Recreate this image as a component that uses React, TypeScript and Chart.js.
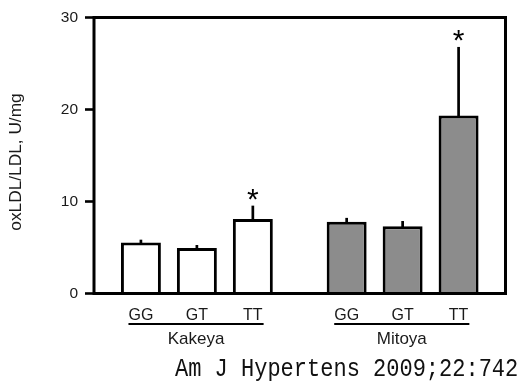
import React, { useEffect, useRef } from "react";
import { Chart, registerables } from "chart.js";

Chart.register(...registerables);

// ---- data ----
const groups = ["Kakeya", "Mitoya"];
const genotypes = ["GG", "GT", "TT"];
// mean oxLDL/LDL (U/mg) per genotype, indexed by group
const ggMeans = [5.55, 7.8];
const gtMeans = [4.95, 7.3];
const ttMeans = [8.1, 19.35];
// upper error (SE) per genotype, indexed by group
const ggErrors = [0.3, 0.42];
const gtErrors = [0.32, 0.58];
const ttErrors = [1.45, 7.45];
// significance marks per genotype, indexed by group
const ggSignificant = [false, false];
const gtSignificant = [false, false];
const ttSignificant = [true, true];
const yTicks = [0, 10, 20, 30];
const yTitle = "oxLDL/LDL, U/mg";
const footnote = "Am J Hypertens 2009;22:742";

const groupFills = ["#ffffff", "#8c8c8c"];
const SANS = "'Liberation Sans', Arial, Helvetica, sans-serif";
const INK = "#1a1a1a";

export default function App() {
  const ref = useRef<HTMLCanvasElement | null>(null);

  useEffect(() => {
    const canvas = ref.current;
    if (!canvas) return;
    const meansList = [ggMeans, gtMeans, ttMeans];
    const errList = [ggErrors, gtErrors, ttErrors];
    const sigList = [ggSignificant, gtSignificant, ttSignificant];

    const decor = {
      id: "decor",
      afterDatasetsDraw(chart: any) {
        const ctx = chart.ctx;
        const y = chart.scales.y;
        ctx.save();
        // error bars
        meansList.forEach((means, di) => {
          const meta = chart.getDatasetMeta(di);
          meta.data.forEach((bar: any, gi: number) => {
            const top = y.getPixelForValue(means[gi]);
            const errTop = y.getPixelForValue(means[gi] + errList[di][gi]);
            ctx.strokeStyle = "#000";
            ctx.lineWidth = 2.7;
            ctx.beginPath();
            ctx.moveTo(bar.x, top + 1);
            ctx.lineTo(bar.x, errTop);
            ctx.stroke();
            if (sigList[di][gi]) {
              ctx.fillStyle = "#000";
              ctx.font = `30px ${SANS}`;
              ctx.textAlign = "center";
              ctx.textBaseline = "alphabetic";
              const m = ctx.measureText("*");
              const asc = m.actualBoundingBoxAscent;
              const desc = m.actualBoundingBoxDescent;
              const center = errTop - 11;
              const baseline = center - (desc - asc) / 2;
              ctx.fillText("*", bar.x, baseline);
            }
          });
        });
        ctx.restore();
      },
      afterDraw(chart: any) {
        const ctx = chart.ctx;
        const a = chart.chartArea;
        ctx.save();
        // frame
        ctx.strokeStyle = "#000";
        ctx.lineWidth = 3;
        ctx.strokeRect(a.left, a.top, a.right - a.left, a.bottom - a.top);

        // y title
        ctx.fillStyle = INK;
        ctx.font = `16px ${SANS}`;
        ctx.textAlign = "center";
        ctx.textBaseline = "middle";
        ctx.translate(17, 162);
        ctx.rotate(-Math.PI / 2);
        ctx.scale(1.08, 1);
        ctx.fillText(yTitle, 0, 0);
        ctx.setTransform(1, 0, 0, 1, 0, 0);

        // genotype labels, underline, group labels
        groups.forEach((g, gi) => {
          const xs = genotypes.map((_, di) => chart.getDatasetMeta(di).data[gi].x);
          ctx.font = `16px ${SANS}`;
          ctx.textAlign = "center";
          ctx.textBaseline = "alphabetic";
          ctx.fillStyle = INK;
          genotypes.forEach((gt, di) => ctx.fillText(gt, xs[di], 320));
          const wFirst = ctx.measureText(genotypes[0]).width;
          const wLast = ctx.measureText(genotypes[genotypes.length - 1]).width;
          const x0 = xs[0] - wFirst / 2;
          const x1 = xs[xs.length - 1] + wLast / 2 + 1;
          ctx.strokeStyle = "#000";
          ctx.lineWidth = 2;
          ctx.beginPath();
          ctx.moveTo(x0, 324);
          ctx.lineTo(x1, 324);
          ctx.stroke();
          ctx.font = `17px ${SANS}`;
          ctx.fillText(g, (x0 + x1) / 2, 344);
        });

        // footnote
        ctx.font = "22px 'Liberation Mono', 'DejaVu Sans Mono', monospace";
        ctx.textAlign = "left";
        ctx.textBaseline = "alphabetic";
        ctx.fillStyle = "#111";
        ctx.translate(175, 375.5);
        ctx.scale(1, 1.18);
        ctx.fillText(footnote, 0, 0);
        ctx.setTransform(1, 0, 0, 1, 0, 0);
        ctx.restore();
      },
    };

    const chart = new Chart(canvas, {
      type: "bar",
      data: {
        labels: groups,
        datasets: genotypes.map((gt, di) => ({
          label: gt,
          data: meansList[di],
          backgroundColor: groupFills,
          borderColor: "#000",
          borderWidth: 3,
          borderSkipped: "start",
          categoryPercentage: 0.816,
          barPercentage: 0.714,
        })),
      },
      options: {
        animation: false,
        responsive: false,
        events: [],
        layout: { padding: { top: 17.5, right: 18.5, bottom: 87.5, left: 0 } },
        plugins: { legend: { display: false }, tooltip: { enabled: false }, title: { display: false } },
        scales: {
          x: { display: false },
          y: {
            min: 0,
            max: 30,
            afterFit(scale: any) {
              scale.width = 94;
            },
            afterBuildTicks(scale: any) {
              scale.ticks = yTicks.map((v) => ({ value: v }));
            },
            border: { display: false },
            grid: {
              drawOnChartArea: false,
              drawTicks: true,
              tickLength: 9,
              tickWidth: 2.6,
              tickColor: "#000",
            },
            ticks: {
              padding: 7,
              color: INK,
              font: { family: SANS, size: 15.5 },
            },
          },
        },
      },
      plugins: [decor],
    });
    return () => chart.destroy();
  }, []);

  return (
    <div style={{ position: "absolute", left: 0, top: 0, width: 524, height: 381, background: "#fff" }}>
      <canvas ref={ref} width={524} height={381} style={{ width: 524, height: 381 }} />
    </div>
  );
}
